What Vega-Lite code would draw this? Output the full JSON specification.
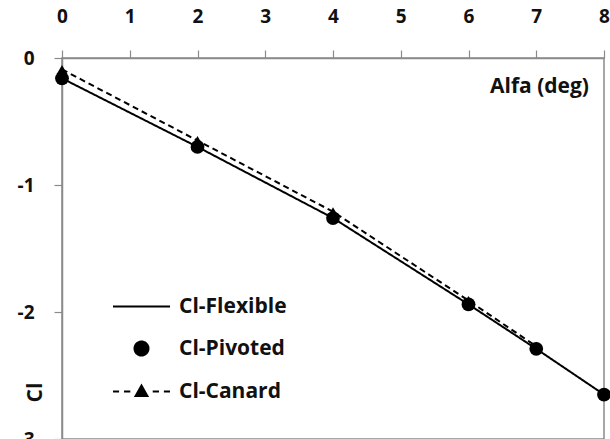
{
  "$schema": "https://vega.github.io/schema/vega-lite/v6.json",
  "width": 542,
  "height": 381,
  "autosize": {"type": "none"},
  "padding": {"left": 62, "top": 58, "right": 6, "bottom": 0},
  "background": "white",
  "config": {
    "view": {"stroke": "#8a8a8a", "strokeWidth": 1.5},
    "font": "Open Sans",
    "axis": {
      "domainColor": "#8a8a8a",
      "domainWidth": 1.5,
      "tickColor": "#8a8a8a",
      "tickWidth": 1.2,
      "tickSize": 8,
      "grid": false,
      "labelFont": "Open Sans",
      "labelFontSize": 19,
      "labelFontWeight": "bold",
      "labelColor": "#111",
      "titleFont": "Open Sans",
      "titleFontWeight": "bold",
      "titleColor": "#111"
    }
  },
  "data": {
    "values": [
      {"series": "Cl-Flexible", "alpha": 0, "cl": -0.16},
      {"series": "Cl-Flexible", "alpha": 2, "cl": -0.7},
      {"series": "Cl-Flexible", "alpha": 4, "cl": -1.26},
      {"series": "Cl-Flexible", "alpha": 6, "cl": -1.94},
      {"series": "Cl-Flexible", "alpha": 7, "cl": -2.29},
      {"series": "Cl-Flexible", "alpha": 8, "cl": -2.65},
      {"series": "Cl-Pivoted", "alpha": 0, "cl": -0.16},
      {"series": "Cl-Pivoted", "alpha": 2, "cl": -0.7},
      {"series": "Cl-Pivoted", "alpha": 4, "cl": -1.26},
      {"series": "Cl-Pivoted", "alpha": 6, "cl": -1.94},
      {"series": "Cl-Pivoted", "alpha": 7, "cl": -2.29},
      {"series": "Cl-Pivoted", "alpha": 8, "cl": -2.65},
      {"series": "Cl-Canard", "alpha": 0, "cl": -0.09},
      {"series": "Cl-Canard", "alpha": 2, "cl": -0.65},
      {"series": "Cl-Canard", "alpha": 4, "cl": -1.21},
      {"series": "Cl-Canard", "alpha": 6, "cl": -1.91},
      {"series": "Cl-Canard", "alpha": 7, "cl": -2.27}
    ]
  },
  "encoding": {
    "x": {
      "field": "alpha",
      "type": "quantitative",
      "scale": {"domain": [0, 8], "nice": false},
      "axis": {
        "orient": "top",
        "values": [0, 1, 2, 3, 4, 5, 6, 7, 8],
        "labelPadding": 24,
        "labelFlush": false,
        "title": "Alfa (deg)",
        "titleFontSize": 21,
        "titleX": 477,
        "titleY": 28,
        "titleAlign": "center",
        "titleBaseline": "middle"
      }
    },
    "y": {
      "field": "cl",
      "type": "quantitative",
      "scale": {"domain": [-3, 0], "nice": false},
      "axis": {
        "values": [0, -1, -2, -3],
        "labelExpr": "datum.value < 0 ? '-' + abs(datum.value) : '' + datum.value",
        "labelPadding": 20,
        "labelFlush": false,
        "title": "Cl",
        "titleFontSize": 21,
        "titleAngle": -90,
        "titleX": -27,
        "titleY": 334,
        "titleAlign": "center",
        "titleBaseline": "middle"
      }
    },
    "color": {
      "field": "series",
      "type": "nominal",
      "scale": {"domain": ["Cl-Flexible", "Cl-Pivoted", "Cl-Canard"], "range": ["black", "black", "black"]},
      "legend": {
        "orient": "none",
        "legendX": 69,
        "legendY": 238,
        "title": null,
        "padding": 0,
        "labelFont": "Open Sans",
        "labelFontSize": 21,
        "labelFontWeight": "bold",
        "labelColor": "#111",
        "symbolSize": 196,
        "labelOffset": 27,
        "rowPadding": 20,
        "encode": {
          "symbols": {
            "update": {
              "shape": {"signal": "datum.value === 'Cl-Flexible' ? 'M-4.07,0L4.07,0' : datum.value === 'Cl-Pivoted' ? 'circle' : 'M-4.07,0L-3.2,0M-2.5,0L-1.6,0M1.6,0L2.5,0M3.2,0L4.07,0M0,-0.85L0.85,0.65L-0.85,0.65Z'"},
              "fill": {"value": "black"},
              "stroke": {"value": "black"},
              "strokeWidth": {"value": 2},
              "strokeDash": {"value": [1, 0]},
              "opacity": {"value": 1},
              "fillOpacity": {"value": 1},
              "strokeOpacity": {"value": 1}
            }
          }
        }
      }
    }
  },
  "layer": [
    {
      "transform": [{"filter": "datum.series !== 'Cl-Pivoted'"}],
      "mark": {"type": "line", "strokeWidth": 2},
      "encoding": {
        "strokeDash": {
          "field": "series",
          "type": "nominal",
          "scale": {"domain": ["Cl-Flexible", "Cl-Canard"], "range": [[1, 0], [6, 4]]},
          "legend": null
        }
      }
    },
    {
      "transform": [{"filter": "datum.series === 'Cl-Canard'"}],
      "mark": {"type": "point", "shape": "triangle-up", "filled": true, "size": 110, "opacity": 1}
    },
    {
      "transform": [{"filter": "datum.series === 'Cl-Pivoted'"}],
      "mark": {"type": "point", "shape": "circle", "filled": true, "size": 190, "opacity": 1}
    }
  ]
}
